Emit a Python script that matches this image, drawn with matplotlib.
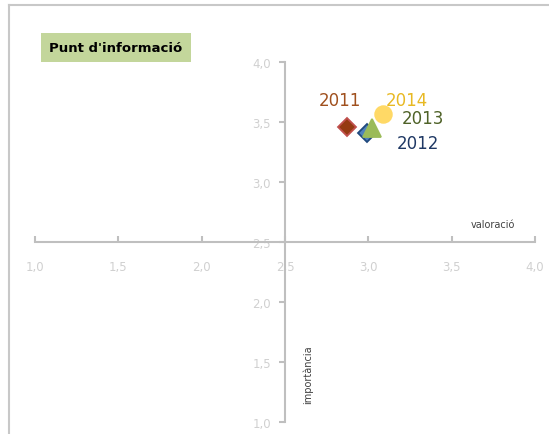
import matplotlib

matplotlib.use("Agg")
import matplotlib.pyplot as plt
from matplotlib.lines import Line2D

YEARS = ["2011", "2012", "2013", "2014"]
VALORACIO = [2.87, 2.99, 3.02, 3.09]
IMPORTANCIA = [3.46, 3.41, 3.45, 3.57]
MARKERS = ["D", "D", "^", "o"]
FILL = ["#953A12", "#4F81BD", "#9BBB59", "#FFD966"]
EDGE = ["#C0504D", "#1F497D", "#9BBB59", "#FFD966"]
LABEL_COLORS = ["#A0501E", "#1F3864", "#4F6228", "#E8B923"]
LABEL_POS = [(2.83, 3.68), (3.30, 3.325), (3.33, 3.53), (3.23, 3.68)]
TICKS = [1.0, 1.5, 2.0, 2.5, 3.0, 3.5, 4.0]

fig = plt.figure(figsize=(5.49, 4.35), dpi=100)
ax = fig.add_axes([35 / 549, 12 / 435, 500 / 549, 360 / 435])

# frame of the chart area (only top and left edges visible)
fig.add_artist(Line2D([9 / 549, 1.0], [1 - 5.5 / 435, 1 - 5.5 / 435], color="#C8C8C8", lw=1.5))
fig.add_artist(Line2D([9 / 549, 9 / 549], [0.0, 1 - 5.5 / 435], color="#C8C8C8", lw=1.5))

for x, y, m, fc, ec, ms in zip(VALORACIO, IMPORTANCIA, MARKERS, FILL, EDGE, [9, 9, 13, 12]):
    ax.plot(x, y, marker=m, ms=ms, mfc=fc, mec=ec, mew=1.3, linestyle="none", zorder=3)

for year, (lx, ly), c in zip(YEARS, LABEL_POS, LABEL_COLORS):
    ax.text(lx, ly, year, color=c, fontsize=12, ha="center", va="center")

ax.set_xlim(1.0, 4.0)
ax.set_ylim(1.0, 4.0)
ax.spines["left"].set_position(("data", 2.5))
ax.spines["bottom"].set_position(("data", 2.5))
ax.spines["right"].set_visible(False)
ax.spines["top"].set_visible(False)
for s in ("left", "bottom"):
    ax.spines[s].set_color("#BFBFBF")
    ax.spines[s].set_linewidth(1.5)

ax.set_xticks(TICKS)
ax.set_yticks(TICKS)
ax.set_xticklabels([f"{t:.1f}".replace(".", ",") for t in TICKS])
ax.set_yticklabels([f"{t:.1f}".replace(".", ",") for t in TICKS])
ax.tick_params(axis="x", direction="in", length=4, width=1.5, color="#BFBFBF",
               labelcolor="#D0D0D0", labelsize=8.5, pad=13)
ax.tick_params(axis="y", direction="out", length=4, width=1.5, color="#BFBFBF",
               labelcolor="#D0D0D0", labelsize=8.5, pad=6)
ax.patch.set_alpha(0)

ax.text(3.75, 2.65, "valoració", fontsize=7, color="#404040", ha="center", va="center")
ax.text(2.64, 1.40, "importància", fontsize=7, color="#404040", rotation=90, ha="center", va="center")

fig.text(116 / 549, 1 - 48.5 / 435, "Punt d'informació", fontsize=9.5, fontweight="bold",
         ha="center", va="center", color="black",
         bbox=dict(boxstyle="square,pad=0.6", fc="#C3D69B", ec="none"))

fig.savefig("out.png", dpi=100)
